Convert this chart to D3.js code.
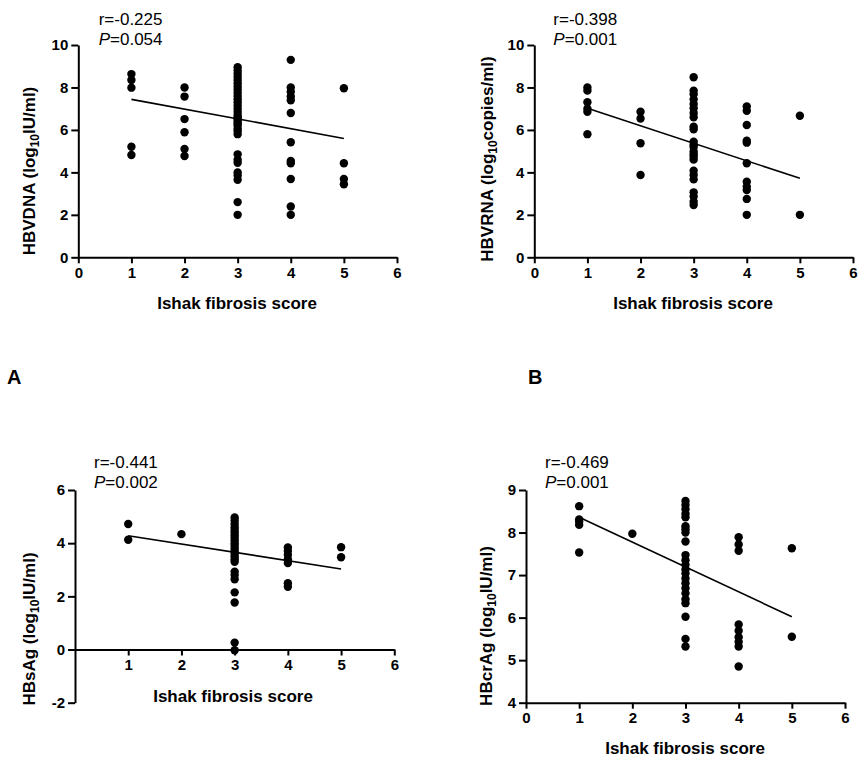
<!DOCTYPE html>
<html lang="en">
<head>
  <meta charset="UTF-8">
  <title>Ishak fibrosis score correlations</title>
  <script src="https://d3js.org/d3.v7.min.js"></script>
  <style>
    body { margin: 0; background: #fff; }
    text { font-family: "Liberation Sans", Arial, sans-serif; fill: #000; }
  </style>
</head>
<body>
  <svg id="chart" width="861" height="760"></svg>

  <script>
    // Ishak score categories (x values)
    const scores = [1, 2, 3, 4, 5];

    // y values per score (index 0 -> score 1)
    const hbvDna = [
      [8.63, 8.35, 7.99, 5.21, 4.82],
      [8.0, 7.57, 6.51, 5.89, 5.10, 4.77],
      [8.95, 8.8, 8.65, 8.5, 8.35, 8.2, 8.05, 7.9, 7.75, 7.6, 7.45, 7.3, 7.15, 7.0, 6.85, 6.7,
       6.6, 6.5, 6.4, 6.3, 6.2, 6.05, 5.95, 5.8, 4.85, 4.6, 4.45, 4.0, 3.85, 3.65, 2.6, 2.0],
      [9.3, 8.0, 7.8, 7.57, 7.4, 6.8, 5.42, 4.54, 4.43, 3.69, 2.39, 2.0],
      [7.96, 4.43, 3.69, 3.44]
    ];
    const hbvRna = [
      [8.0, 7.85, 7.3, 7.0, 6.85, 5.8],
      [6.86, 6.54, 5.37, 3.88],
      [8.48, 7.85, 7.68, 7.44, 7.22, 7.02, 6.8, 6.6, 6.15, 6.03, 5.45, 5.3, 5.2, 4.98, 4.85,
       4.74, 4.6, 4.08, 3.88, 3.67, 3.06, 2.86, 2.62, 2.46],
      [7.1, 6.9, 6.23, 5.49, 5.4, 4.43, 3.56, 3.33, 3.17, 2.75, 2.0],
      [6.67, 2.0]
    ];
    const hbsAg = [
      [4.72, 4.13],
      [4.34],
      [4.97, 4.85, 4.72, 4.6, 4.5, 4.4, 4.3, 4.2, 4.1, 4.0, 3.9, 3.8, 3.7, 3.6, 3.5, 3.4, 3.3,
       2.93, 2.8, 2.64, 2.15, 1.77, 0.26, -0.03],
      [3.84, 3.71, 3.56, 3.4, 3.25, 2.49, 2.36],
      [3.85, 3.47]
    ];
    const hbcrAg = [
      [8.62, 8.31, 8.26, 8.18, 7.53],
      [7.97],
      [8.74, 8.65, 8.55, 8.44, 8.36, 8.15, 8.08, 8.0, 7.79, 7.47, 7.35, 7.24, 7.13, 7.04, 6.92,
       6.81, 6.69, 6.57, 6.43, 6.34, 6.02, 5.5, 5.32],
      [7.89, 7.72, 7.57, 5.84, 5.69, 5.54, 5.43, 5.32, 4.85],
      [7.63, 5.55]
    ];

    // fitted line values at score 1 and score 5
    const fitX = [1, 5];
    const hbvDnaFit = [7.44, 5.6];
    const hbvRnaFit = [7.02, 3.72];
    const hbsAgFit = [4.28, 3.03];
    const hbcrAgFit = [8.36, 6.02];

    // stats text
    const rValues = ['-0.225', '-0.398', '-0.441', '-0.469'];
    const pValues = ['0.054', '0.001', '0.002', '0.001'];

    // axis ticks
    const xTicks = [0, 1, 2, 3, 4, 5, 6];
    const dnaTicks = [0, 2, 4, 6, 8, 10];
    const sAgTicks = [-2, 0, 2, 4, 6];
    const crTicks = [4, 5, 6, 7, 8, 9];

    const svg = d3.select('#chart');

    const panels = [
      { data: hbvDna, fit: hbvDnaFit, r: rValues[0], p: pValues[0], yDomain: [0, 10], yTicks: dnaTicks,
        xr: [78.3, 397], yr: [257.3, 45], statX: 98.7, statY: 25,
        label: 'HBVDNA (log', unit: 'IU/ml)', yTitle: [35, 171], xTitle: [237, 309] },
      { data: hbvRna, fit: hbvRnaFit, r: rValues[1], p: pValues[1], yDomain: [0, 10], yTicks: dnaTicks,
        xr: [534.3, 853], yr: [257.3, 45], statX: 553.3, statY: 25,
        label: 'HBVRNA (log', unit: 'copies/ml)', yTitle: [492.7, 159], xTitle: [693, 309] },
      { data: hbsAg, fit: hbsAgFit, r: rValues[2], p: pValues[2], yDomain: [-2, 6], yTicks: sAgTicks,
        xr: [75, 394.3], yr: [702.7, 490], statX: 94, statY: 468.3, xAtZero: true,
        label: 'HBsAg (log', unit: 'IU/ml)', yTitle: [35, 629], xTitle: [233, 702] },
      { data: hbcrAg, fit: hbcrAgFit, r: rValues[3], p: pValues[3], yDomain: [4, 9], yTicks: crTicks,
        xr: [526, 845], yr: [702.7, 490], statX: 545, statY: 468.3,
        label: 'HBcrAg (log', unit: 'IU/ml)', yTitle: [491.7, 626], xTitle: [685, 754] }
    ];

    const fmt = d => String(d); // plain hyphen for negatives, no decimals

    panels.forEach(function(pn) {
      const x = d3.scaleLinear().domain([0, 6]).range(pn.xr);
      const y = d3.scaleLinear().domain(pn.yDomain).range(pn.yr);
      const g = svg.append('g');

      // x axis (sits at y=0 for the HBsAg panel)
      const xAxisY = pn.xAtZero ? y(0) : pn.yr[0];
      const xAxis = d3.axisBottom(x)
        .tickValues(pn.xAtZero ? xTicks.slice(1) : xTicks)
        .tickFormat(fmt)
        .tickSize(6).tickSizeOuter(0).tickPadding(4);
      g.append('g')
        .attr('transform', 'translate(0,' + xAxisY + ')')
        .call(xAxis);

      const yAxis = d3.axisLeft(y)
        .tickValues(pn.yTicks)
        .tickFormat(fmt)
        .tickSize(7).tickSizeOuter(0).tickPadding(3);
      g.append('g')
        .attr('transform', 'translate(' + pn.xr[0] + ',0)')
        .call(yAxis);

      g.selectAll('.domain, .tick line')
        .attr('stroke', '#000')
        .attr('stroke-width', 2);
      g.selectAll('.tick text')
        .style('font-size', '15px')
        .style('font-weight', 'bold')
        .attr('fill', '#000');

      // dots
      const pts = [];
      pn.data.forEach(function(vals, i) {
        vals.forEach(function(v) { pts.push([scores[i], v]); });
      });
      g.selectAll('circle')
        .data(pts)
        .enter().append('circle')
        .attr('cx', d => x(d[0]))
        .attr('cy', d => y(d[1]))
        .attr('r', 4.2)
        .attr('fill', '#000');

      // regression line
      g.append('line')
        .attr('x1', x(fitX[0])).attr('y1', y(pn.fit[0]))
        .attr('x2', x(fitX[1])).attr('y2', y(pn.fit[1]))
        .attr('stroke', '#000')
        .attr('stroke-width', 1.6);

      // r / P text
      g.append('text')
        .attr('x', pn.statX).attr('y', pn.statY)
        .style('font-size', '17px')
        .text('r=' + pn.r);
      const pt = g.append('text')
        .attr('x', pn.statX).attr('y', pn.statY + 20)
        .style('font-size', '17px');
      pt.append('tspan').style('font-style', 'italic').text('P');
      pt.append('tspan').text('=' + pn.p);

      // axis titles
      g.append('text')
        .attr('x', pn.xTitle[0]).attr('y', pn.xTitle[1])
        .attr('text-anchor', 'middle')
        .style('font-size', '17px')
        .style('font-weight', 'bold')
        .text('Ishak fibrosis score');

      const yt = g.append('text')
        .attr('transform', 'translate(' + pn.yTitle[0] + ',' + pn.yTitle[1] + ') rotate(-90)')
        .attr('text-anchor', 'middle')
        .style('font-size', '17px')
        .style('font-weight', 'bold');
      yt.append('tspan').text(pn.label);
      yt.append('tspan').attr('dy', 4).style('font-size', '12px').text('10');
      yt.append('tspan').attr('dy', -4).text(pn.unit);
    });

    // panel letters
    svg.append('text').attr('x', 7).attr('y', 384)
      .style('font-size', '20px').style('font-weight', 'bold').text('A');
    svg.append('text').attr('x', 528).attr('y', 384)
      .style('font-size', '20px').style('font-weight', 'bold').text('B');
  </script>
</body>
</html>
